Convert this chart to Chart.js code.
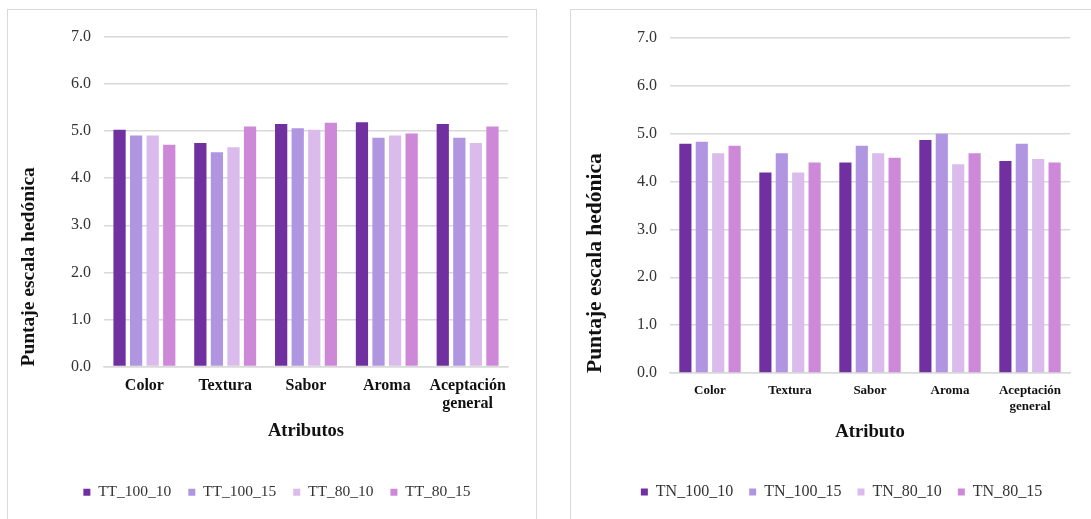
<!DOCTYPE html>
<html>
<head>
<meta charset="utf-8">
<script src="https://cdn.jsdelivr.net/npm/chart.js@4.4.0/dist/chart.umd.min.js"></script>
<style>
  html, body { margin: 0; padding: 0; background: #fff; overflow: hidden; width: 1091px; height: 519px; }
  .panel { position: absolute; border: 1px solid #d9d9d9; background: #fff; }
  #p1 { left: 7px; top: 9px; width: 528px; height: 520px; }
  #p2 { left: 570px; top: 9px; width: 530px; height: 520px; }
  canvas { display: block; }
</style>
</head>
<body>
<div class="panel" id="p1"><canvas id="c1" width="528" height="509"></canvas></div>
<div class="panel" id="p2"><canvas id="c2" width="530" height="509"></canvas></div>
<script>
// Sensory attributes evaluated on the hedonic scale
const categories = ['Color', 'Textura', 'Sabor', 'Aroma', ['Aceptación', 'general']];
const yTicks = [0, 1, 2, 3, 4, 5, 6, 7];
const seriesColors = ['#7030a0', '#b095e0', '#dbbbec', '#cd88d8'];

// TT treatments
const ttNames = ['TT_100_10', 'TT_100_15', 'TT_80_10', 'TT_80_15'];
const tt_100_10 = [5.03, 4.75, 5.15, 5.19, 5.15];
const tt_100_15 = [4.91, 4.55, 5.06, 4.86, 4.86];
const tt_80_10  = [4.91, 4.66, 5.03, 4.91, 4.75];
const tt_80_15  = [4.71, 5.10, 5.18, 4.95, 5.10];

// TN treatments
const tnNames = ['TN_100_10', 'TN_100_15', 'TN_80_10', 'TN_80_15'];
const tn_100_10 = [4.79, 4.19, 4.40, 4.87, 4.43];
const tn_100_15 = [4.83, 4.59, 4.75, 5.00, 4.79];
const tn_80_10  = [4.59, 4.19, 4.59, 4.36, 4.47];
const tn_80_15  = [4.75, 4.40, 4.50, 4.59, 4.40];

const serif = "'Liberation Serif', 'Times New Roman', serif";

// Nudges the legend block horizontally after layout
const legendShift = {
  id: 'legendShift',
  afterLayout(chart, args, opts) {
    const lg = chart.legend;
    if (lg && opts.dx) { lg.left += opts.dx; lg.right += opts.dx; }
  }
};

function buildChart(id, names, series, cfg) {
  const datasets = names.map((name, i) => ({
    label: name,
    data: series[i],
    backgroundColor: seriesColors[i],
    borderWidth: 0,
    categoryPercentage: 0.82,
    barPercentage: 0.74
  }));
  return new Chart(document.getElementById(id), {
    type: 'bar',
    data: { labels: categories, datasets },
    plugins: [legendShift],
    options: {
      responsive: false,
      animation: false,
      devicePixelRatio: 1,
      layout: { padding: { left: 0, right: cfg.padRight, top: cfg.padTop, bottom: 9 } },
      plugins: {
        tooltip: { enabled: false },
        legendShift: { dx: cfg.legendDx },
        legend: {
          position: 'bottom',
          labels: {
            boxWidth: 7,
            boxHeight: 7,
            padding: cfg.legendPad,
            color: '#333',
            font: { family: serif, size: cfg.legendSize }
          }
        }
      },
      scales: {
        x: {
          grid: { display: false, drawTicks: false },
          border: { display: true, color: '#d9d9d9', width: 1.5 },
          ticks: {
            padding: cfg.xTickPad,
            color: '#111',
            maxRotation: 0,
            autoSkip: false,
            font: { family: serif, size: cfg.xTickSize, weight: 'bold', lineHeight: cfg.xTickLH }
          },
          title: {
            display: true,
            text: cfg.xTitle,
            color: '#111',
            padding: { top: 0, bottom: cfg.xTitlePadBottom },
            font: { family: serif, size: cfg.xTitleSize, weight: 'bold', lineHeight: 1.2 }
          },
          afterFit: (s) => { s.height = cfg.xHeight; }
        },
        y: {
          min: 0,
          max: 7,
          afterBuildTicks: (s) => { s.ticks = yTicks.map(v => ({ value: v })); },
          grid: { color: '#d9d9d9', lineWidth: 1.5, drawTicks: false },
          border: { display: false },
          ticks: {
            padding: 13,
            color: '#333',
            font: { family: serif, size: 16 },
            callback: (v) => Number(v).toFixed(1)
          },
          title: {
            display: true,
            text: 'Puntaje escala hedónica',
            align: 'start',
            color: '#111',
            padding: { top: cfg.yTitlePadTop, bottom: 0 },
            font: { family: serif, size: cfg.yTitleSize, weight: 'bold', lineHeight: 1.2 }
          },
          afterFit: (s) => { s.width = cfg.yWidth; }
        }
      }
    }
  });
}

buildChart('c1', ttNames, [tt_100_10, tt_100_15, tt_80_10, tt_80_15], {
  padRight: 28, padTop: 27, yWidth: 96, xHeight: 101,
  legendPad: 17, legendSize: 15.5, legendDx: 19,
  xTickPad: 10, xTickSize: 16, xTickLH: 1.15,
  xTitle: 'Atributos', xTitleSize: 18.5, xTitlePadBottom: 25,
  yTitleSize: 19.5, yTitlePadTop: 9
});

buildChart('c2', tnNames, [tn_100_10, tn_100_15, tn_80_10, tn_80_15], {
  padRight: 31, padTop: 28, yWidth: 99, xHeight: 95,
  legendPad: 16, legendSize: 16, legendDx: 21,
  xTickPad: 10, xTickSize: 13, xTickLH: 1.2,
  xTitle: 'Atributo', xTitleSize: 18.7, xTitlePadBottom: 25,
  yTitleSize: 21.5, yTitlePadTop: 12
});
</script>
</body>
</html>
